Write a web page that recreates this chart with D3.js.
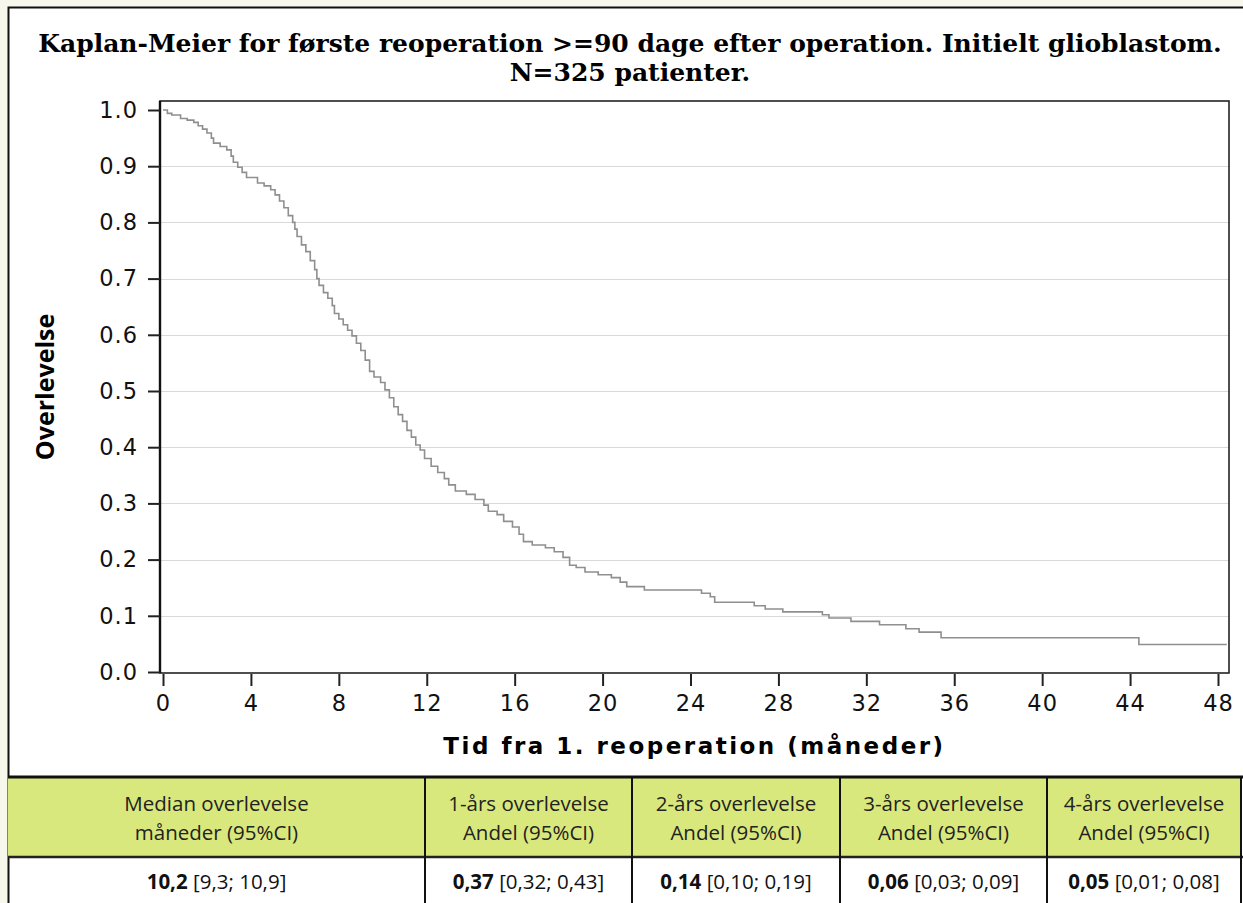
<!DOCTYPE html>
<html>
<head>
<meta charset="utf-8">
<script src="https://cdn.jsdelivr.net/npm/d3@7.9.0/dist/d3.min.js"></script>
<style>
  html, body { margin: 0; padding: 0; background: #f7f7ec; }
  svg { display: block; }
</style>
</head>
<body>
<svg id="chart" width="1243" height="903"></svg>
<script>
// Kaplan-Meier step data (months, survival after the step)
const times = [0, 0.2, 0.4, 0.8, 1.1, 1.4, 1.6, 1.8, 2.0, 2.2, 2.3, 2.6, 2.9, 3.1, 3.2, 3.4, 3.6, 3.8,
  4.3, 4.6, 4.9, 5.1, 5.3, 5.5, 5.7, 5.9, 6.0, 6.1, 6.3, 6.5, 6.7, 6.9, 7.0, 7.1, 7.3, 7.5, 7.7, 7.8,
  8.0, 8.2, 8.4, 8.6, 8.8, 9.0, 9.2, 9.4, 9.6, 9.9, 10.1, 10.3, 10.5, 10.7, 10.9, 11.1, 11.3, 11.5,
  11.7, 11.9, 12.2, 12.5, 12.8, 13.0, 13.3, 13.8, 14.2, 14.6, 14.8, 15.2, 15.5, 15.9, 16.2, 16.4,
  16.8, 17.4, 17.8, 18.2, 18.5, 18.8, 19.2, 19.8, 20.4, 20.8, 21.1, 21.9, 24.5, 24.9, 25.1, 26.9,
  27.4, 28.2, 30.0, 30.3, 31.3, 32.6, 33.8, 34.4, 35.4, 44.4];
const survival = [1.000, 0.994, 0.991, 0.985, 0.982, 0.978, 0.972, 0.966, 0.959, 0.950, 0.941, 0.935,
  0.929, 0.918, 0.907, 0.898, 0.889, 0.880, 0.870, 0.865, 0.858, 0.849, 0.838, 0.826, 0.812, 0.800,
  0.788, 0.775, 0.760, 0.748, 0.732, 0.716, 0.700, 0.688, 0.675, 0.665, 0.652, 0.638, 0.628, 0.618,
  0.608, 0.598, 0.585, 0.572, 0.555, 0.535, 0.525, 0.515, 0.502, 0.488, 0.472, 0.458, 0.446, 0.430,
  0.418, 0.404, 0.395, 0.380, 0.366, 0.355, 0.344, 0.333, 0.322, 0.316, 0.307, 0.297, 0.286, 0.280,
  0.268, 0.258, 0.245, 0.232, 0.226, 0.221, 0.214, 0.204, 0.190, 0.186, 0.178, 0.173, 0.168, 0.160,
  0.152, 0.146, 0.140, 0.134, 0.124, 0.118, 0.112, 0.107, 0.102, 0.096, 0.090, 0.084, 0.077, 0.071,
  0.061, 0.049];
const lastTime = 48.4;

const xTicks = [0, 4, 8, 12, 16, 20, 24, 28, 32, 36, 40, 44, 48];
const yTicks = [0, 0.1, 0.2, 0.3, 0.4, 0.5, 0.6, 0.7, 0.8, 0.9, 1.0];

const titleLines = ['Kaplan-Meier for første reoperation >=90 dage efter operation. Initielt glioblastom.',
  'N=325 patienter.'];
const xTitle = 'Tid fra 1. reoperation (måneder)';
const yTitle = 'Overlevelse';

// summary table
const headLine1 = ['Median overlevelse', '1-års overlevelse', '2-års overlevelse', '3-års overlevelse', '4-års overlevelse'];
const headLine2 = ['måneder (95%CI)', 'Andel (95%CI)', 'Andel (95%CI)', 'Andel (95%CI)', 'Andel (95%CI)'];
const estimates = ['10,2', '0,37', '0,14', '0,06', '0,05'];
const intervals = ['[9,3; 10,9]', '[0,32; 0,43]', '[0,10; 0,19]', '[0,03; 0,09]', '[0,01; 0,08]'];

const svg = d3.select('#chart');

// white panel with border
svg.append('rect')
  .attr('x', 8.5).attr('y', 7.5).attr('width', 1250).attr('height', 910)
  .attr('fill', '#fff').attr('stroke', '#111').attr('stroke-width', 2);

// title
svg.selectAll('text.title')
  .data(titleLines)
  .join('text')
  .attr('class', 'title')
  .attr('x', 630)
  .attr('y', (d, i) => 52 + i * 29)
  .attr('text-anchor', 'middle')
  .style('font-family', '"DejaVu Serif", serif')
  .style('font-weight', 'bold')
  .style('font-size', '25px')
  .text(d => d);

const x = d3.scaleLinear().domain([0, 48]).range([163, 1218]);
const y = d3.scaleLinear().domain([0, 1]).range([672, 110]);

const plotLeft = 160, plotRight = 1229, plotTop = 101, plotBottom = 673;

// gridlines
svg.append('g')
  .selectAll('line')
  .data(yTicks.filter(d => d > 0 && d < 1))
  .join('line')
  .attr('x1', plotLeft).attr('x2', plotRight)
  .attr('y1', d => Math.round(y(d)) + 0.5).attr('y2', d => Math.round(y(d)) + 0.5)
  .attr('stroke', '#d9d9d9').attr('stroke-width', 1);

// survival curve
const pts = times.map((t, i) => [t, survival[i]]);
pts.push([lastTime, survival[survival.length - 1]]);
svg.append('path')
  .datum(pts)
  .attr('fill', 'none')
  .attr('stroke', '#8f8f8f')
  .attr('stroke-width', 1.6)
  .attr('d', d3.line().x(d => x(d[0])).y(d => y(d[1])).curve(d3.curveStepAfter));

// frame
svg.append('rect')
  .attr('x', plotLeft).attr('y', plotTop)
  .attr('width', plotRight - plotLeft).attr('height', plotBottom - plotTop)
  .attr('fill', 'none').attr('stroke', '#222').attr('stroke-width', 1.6);
svg.append('line')
  .attr('x1', plotLeft).attr('x2', plotLeft).attr('y1', plotTop).attr('y2', plotBottom)
  .attr('stroke', '#111').attr('stroke-width', 2.4);

// axes
const yAxis = svg.append('g')
  .attr('transform', `translate(${plotLeft},0)`)
  .call(d3.axisLeft(y).tickValues(yTicks).tickSize(12).tickPadding(10).tickFormat(d3.format('.1f')));
const xAxis = svg.append('g')
  .attr('transform', `translate(0,${plotBottom + 1})`)
  .call(d3.axisBottom(x).tickValues(xTicks).tickSize(12).tickPadding(9));
[yAxis, xAxis].forEach(g => {
  g.select('.domain').remove();
  g.selectAll('.tick line').attr('stroke', '#222').attr('stroke-width', 2);
  g.selectAll('.tick text')
    .attr('fill', '#111')
    .style('font-family', '"DejaVu Sans", Verdana, sans-serif')
    .style('font-size', '22.5px')
    .style('letter-spacing', '1px');
});

// axis titles
svg.append('text')
  .attr('x', (plotLeft + plotRight) / 2).attr('y', 754)
  .attr('text-anchor', 'middle')
  .style('font-family', '"DejaVu Sans", Verdana, sans-serif')
  .style('font-weight', 'bold')
  .style('font-size', '23px')
  .style('letter-spacing', '2.5px')
  .text(xTitle);
svg.append('text')
  .attr('transform', `translate(54,${(plotTop + plotBottom) / 2}) rotate(-90)`)
  .attr('text-anchor', 'middle')
  .style('font-family', '"Open Sans", sans-serif')
  .style('font-weight', 'bold')
  .style('font-size', '25px')
  .text(yTitle);

// table
const colEdges = [8, 425, 632, 840, 1047, 1241];
const headTop = 777, headBottom = 857, rowBottom = 920;
const cols = headLine1.map((h, i) => ({
  x0: colEdges[i], x1: colEdges[i + 1], h1: h, h2: headLine2[i], est: estimates[i], ci: intervals[i]
}));

const table = svg.append('g');
table.append('rect')
  .attr('x', colEdges[0]).attr('y', headTop)
  .attr('width', colEdges[5] - colEdges[0]).attr('height', headBottom - headTop)
  .attr('fill', '#d9e87c');

const cell = table.selectAll('g.col').data(cols).join('g').attr('class', 'col');
const tableFont = '"Open Sans", "Noto Sans", sans-serif';
cell.append('text')
  .attr('x', d => (d.x0 + d.x1) / 2).attr('y', 811)
  .attr('text-anchor', 'middle')
  .style('font-family', tableFont).style('font-size', '20.5px').attr('fill', '#222')
  .text(d => d.h1);
cell.append('text')
  .attr('x', d => (d.x0 + d.x1) / 2).attr('y', 840)
  .attr('text-anchor', 'middle')
  .style('font-family', tableFont).style('font-size', '20.5px').attr('fill', '#222')
  .text(d => d.h2);
const valText = cell.append('text')
  .attr('x', d => (d.x0 + d.x1) / 2).attr('y', 889)
  .attr('text-anchor', 'middle')
  .style('font-family', tableFont).style('font-size', '20.5px').attr('fill', '#111');
valText.append('tspan').style('font-weight', 'bold').text(d => d.est);
valText.append('tspan').text(d => ' ' + d.ci);

// table lines
table.append('line')
  .attr('x1', colEdges[0]).attr('x2', 1243).attr('y1', headTop).attr('y2', headTop)
  .attr('stroke', '#111').attr('stroke-width', 3);
table.append('line')
  .attr('x1', colEdges[0]).attr('x2', 1243).attr('y1', headBottom).attr('y2', headBottom)
  .attr('stroke', '#222').attr('stroke-width', 2.5);
table.selectAll('line.v')
  .data(colEdges.slice(1))
  .join('line')
  .attr('class', 'v')
  .attr('x1', d => d).attr('x2', d => d).attr('y1', headTop).attr('y2', rowBottom)
  .attr('stroke', '#111').attr('stroke-width', 2);
</script>
</body>
</html>
